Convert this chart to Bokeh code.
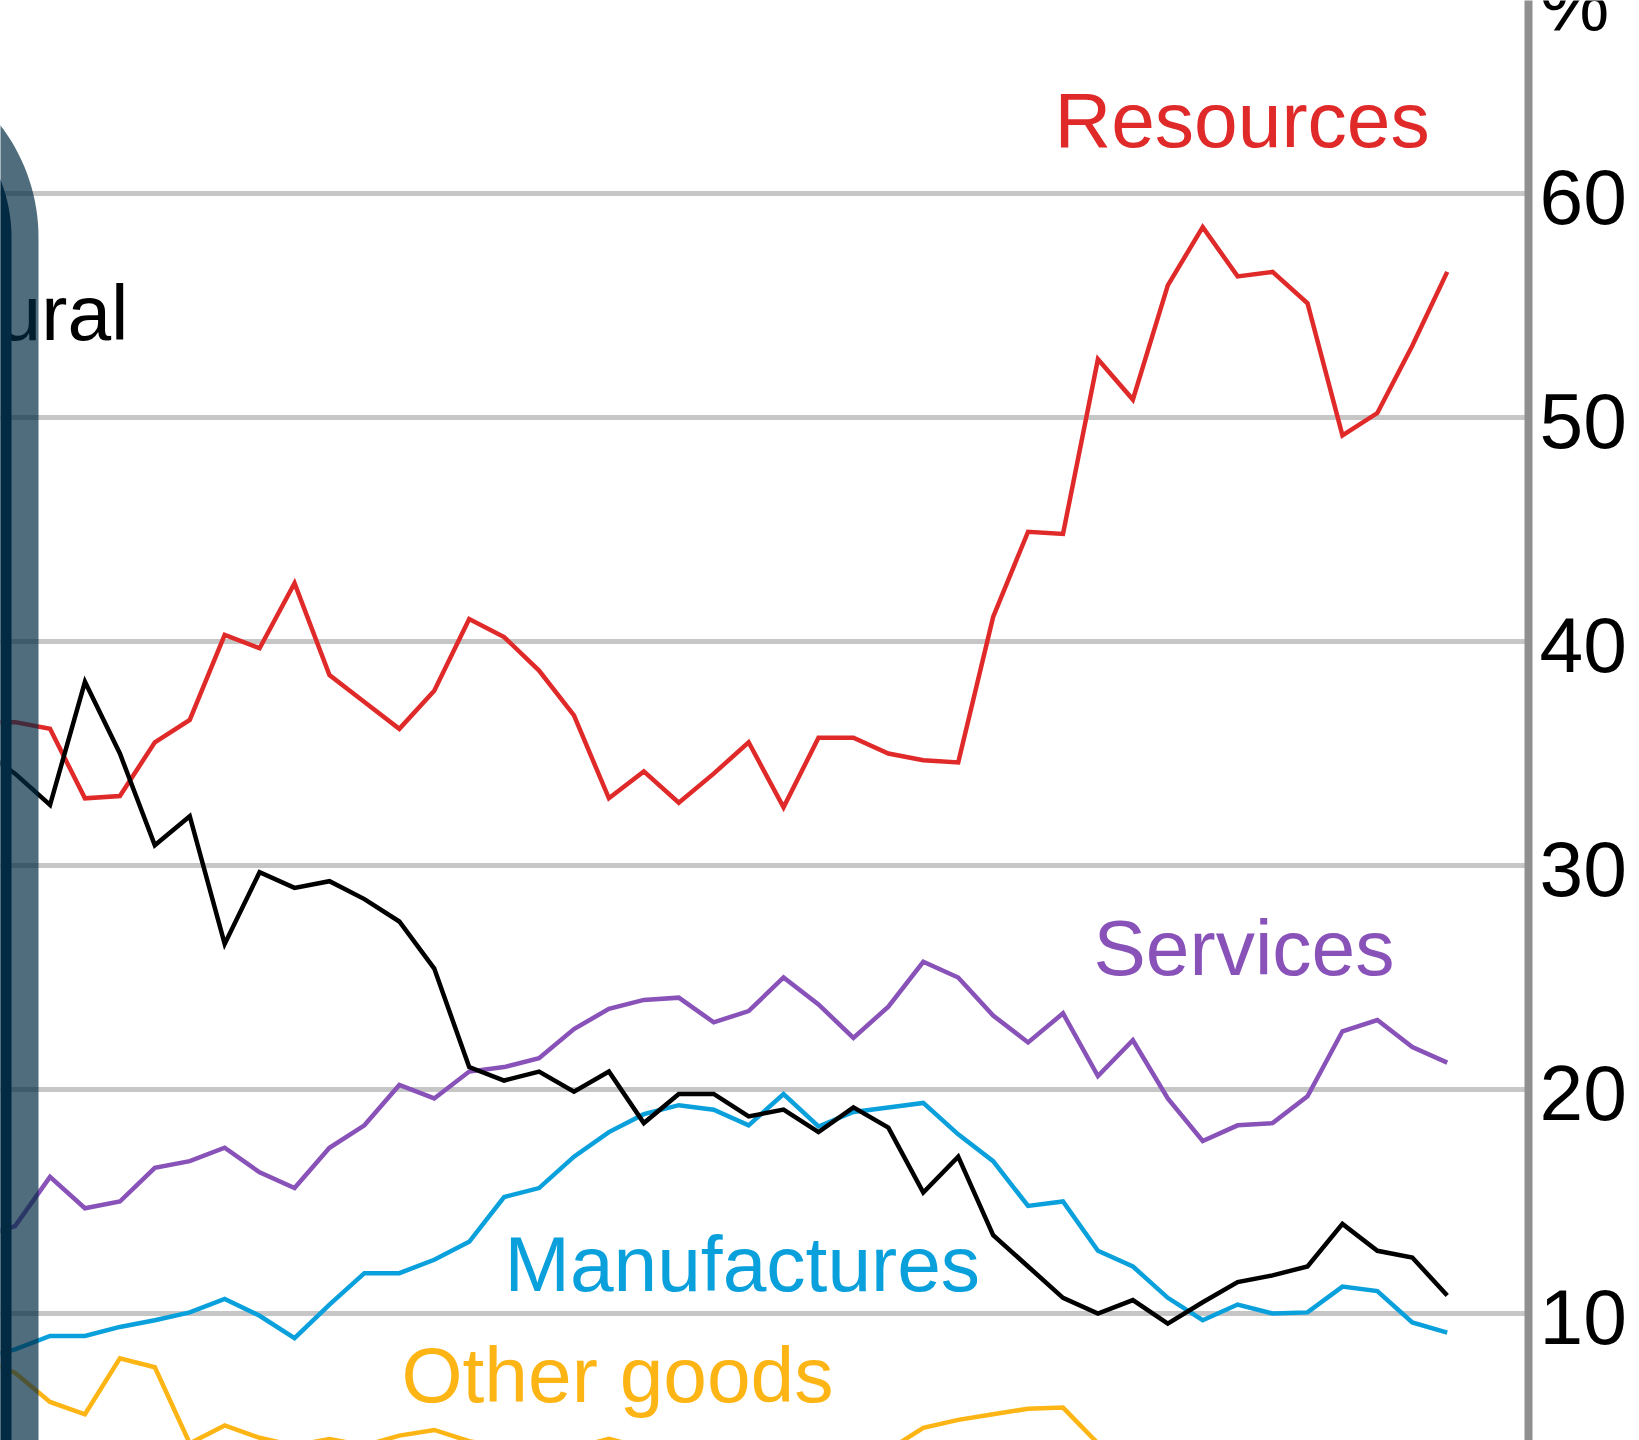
import math
from bokeh.plotting import figure
from bokeh.models import Range1d
from bokeh.embed import file_html
from bokeh.resources import INLINE
from bokeh.core.properties import value

# ---------------- data (shares of exports, %) ----------------
years = list(range(1977, 2020))

resources = [36.4, 36.4, 36.1, 33.0, 33.1, 35.5, 36.5, 40.3, 39.7, 42.6, 38.5,
             37.3, 36.1, 37.8, 41.0, 40.2, 38.7, 36.7, 33.0, 34.2, 32.8, 34.1,
             35.5, 32.6, 35.7, 35.7, 35.0, 34.7, 34.6, 41.1, 44.9, 44.8, 52.6,
             50.8, 55.9, 58.5, 56.3, 56.5, 55.1, 49.2, 50.2, 53.2, 56.5]

rural = [35.2, 34.1, 32.7, 38.2, 35.0, 30.9, 32.2, 26.5, 29.7, 29.0, 29.3,
         28.5, 27.5, 25.4, 21.0, 20.4, 20.8, 19.9, 20.8, 18.5, 19.8, 19.8,
         18.8, 19.1, 18.1, 19.2, 18.3, 15.4, 17.0, 13.5, 12.1, 10.7, 10.0,
         10.6, 9.55, 10.5, 11.4, 11.7, 12.1, 14.0, 12.8, 12.5, 10.8]

services = [13.4, 13.9, 16.1, 14.7, 15.0, 16.5, 16.8, 17.4, 16.3, 15.6, 17.4,
            18.4, 20.2, 19.6, 20.8, 21.0, 21.4, 22.7, 23.6, 24.0, 24.1, 23.0,
            23.5, 25.0, 23.8, 22.3, 23.7, 25.7, 25.0, 23.3, 22.1, 23.4, 20.6,
            22.2, 19.6, 17.7, 18.4, 18.5, 19.7, 22.6, 23.1, 21.9, 21.2]

manufactures = [8.0, 8.4, 9.0, 9.0, 9.4, 9.7, 10.05, 10.65, 9.9, 8.9, 10.4,
                11.8, 11.8, 12.4, 13.2, 15.2, 15.6, 17.0, 18.1, 18.9, 19.3, 19.1,
                18.4, 19.8, 18.35, 19.0, 19.2, 19.4, 18.0, 16.8, 14.8, 15.0, 12.8,
                12.1, 10.7, 9.7, 10.4, 10.0, 10.05, 11.2, 11.0, 9.6, 9.15]

other_goods = [8.0, 7.35, 6.05, 5.5, 8.0, 7.6, 4.2, 5.0, 4.45, 4.1, 4.4,
               4.1, 4.55, 4.8, 4.3, 4.0, 3.9, 4.0, 4.4, 4.0, 3.8, 3.7,
               3.9, 3.8, 3.6, 3.7, 3.9, 4.9, 5.25, 5.5, 5.75, 5.8, 4.2,
               3.9, 3.6, 3.4, 3.6, 3.7, 3.5, 3.4, 3.6, 3.8, 3.7]

y_ticks = [10, 20, 30, 40, 50, 60]
y_tick_labels = ["10", "20", "30", "40", "50", "60"]
unit_label = "%"

# ---------------- layout geometry (pixels) ----------------
W, H = 1639, 1440
AXIS_PX = 1528.0
PX_PER_YEAR = 34.93
X_FIRST_PX = 14.6      # pixel position of 1978
PX_PER_UNIT = 22.4
Y60_PX = 193.0
BASE_SHIFT = 28.0      # renderer places alphabetic baseline lower than requested

x_start = 1978 - X_FIRST_PX / PX_PER_YEAR
x_end = x_start + W / PX_PER_YEAR
y_end = 60 + Y60_PX / PX_PER_UNIT
y_start = y_end - H / PX_PER_UNIT


def px_x(px):
    return x_start + px / PX_PER_YEAR


def px_y(py):
    return y_end - py / PX_PER_UNIT


RED = "#e02a2a"
BLACK = "#000000"
PURPLE = "#8852b8"
BLUE = "#0aa0dc"
ORANGE = "#fdb515"
NAVY = "#022b43"
FONT = "Liberation Sans"
FS = "78.5px"

p = figure(frame_width=W, frame_height=H,
           x_range=Range1d(x_start, x_end), y_range=Range1d(y_start, y_end),
           output_backend="svg", toolbar_location=None,
           x_axis_location=None, y_axis_location=None,
           min_border=0)
p.outline_line_color = None
p.background_fill_color = "white"
p.border_fill_color = "white"
for g in p.grid:
    g.visible = False

axis_x = px_x(AXIS_PX)

# horizontal grid lines ending at the right-hand axis
p.segment(x0=[px_x(-50)] * len(y_ticks), x1=[axis_x] * len(y_ticks),
          y0=y_ticks, y1=y_ticks, line_color="#c6c6c6", line_width=5)

# ---------------- lines ----------------
for ys, col in [(other_goods, ORANGE), (manufactures, BLUE), (services, PURPLE),
                (resources, RED), (rural, BLACK)]:
    p.line(years, ys, line_color=col, line_width=4.5, line_join="miter")

# ---------------- series labels ----------------
labels = [
    ("Resources", 1054, 147, RED, "left"),
    ("Services", 1093, 975, PURPLE, "left"),
    ("Manufactures", 504, 1291, BLUE, "left"),
    ("Other goods", 401, 1402, ORANGE, "left"),
    ("Rural", 128, 340, BLACK, "right"),
]
for txt, lx, ly, col, al in labels:
    p.text(x=[px_x(lx)], y=[px_y(ly - BASE_SHIFT)], text=[txt],
           text_font=value(FONT), text_font_size=FS, text_color=col,
           text_align=al, text_baseline="alphabetic")


# ---------------- dark rounded panel on the left ----------------
def panel(right, r, cx=-146.0, cy=237.0, n=40):
    xs, ys = [-500.0], [cy - r]
    for k in range(n + 1):
        th = math.pi / 2 * (1 - k / n)
        xs.append(cx + r * math.cos(th))
        ys.append(cy - r * math.sin(th))
    xs += [right, -500.0]
    ys += [H + 200.0, H + 200.0]
    return [px_x(v) for v in xs], [px_y(v) for v in ys]


ox, oy = panel(38.0, 184.0)
p.patch(ox, oy, fill_color=NAVY, fill_alpha=0.69, line_color=None)
ix, iy = panel(11.0, 157.0)
p.patch(ix, iy, fill_color=NAVY, fill_alpha=1.0, line_color=None)

# ---------------- right-hand axis: line, tick labels and unit ----------------
p.segment(x0=[axis_x], x1=[axis_x], y0=[px_y(-20)], y1=[px_y(H + 20)],
          line_color="#8f8f8f", line_width=8)

label_x = px_x(1539)
tick_label_y = [t - (31 - BASE_SHIFT) / PX_PER_UNIT for t in y_ticks]
p.text(x=[label_x] * len(y_ticks), y=tick_label_y, text=y_tick_labels,
       text_font=value(FONT), text_font_size=FS, text_color="#000000",
       text_align="left", text_baseline="alphabetic")
p.text(x=[label_x], y=[px_y(31 - BASE_SHIFT)], text=[unit_label],
       text_font=value(FONT), text_font_size=FS, text_color="#000000",
       text_align="left", text_baseline="alphabetic")

open("out.html", "w").write(file_html(p, INLINE))
